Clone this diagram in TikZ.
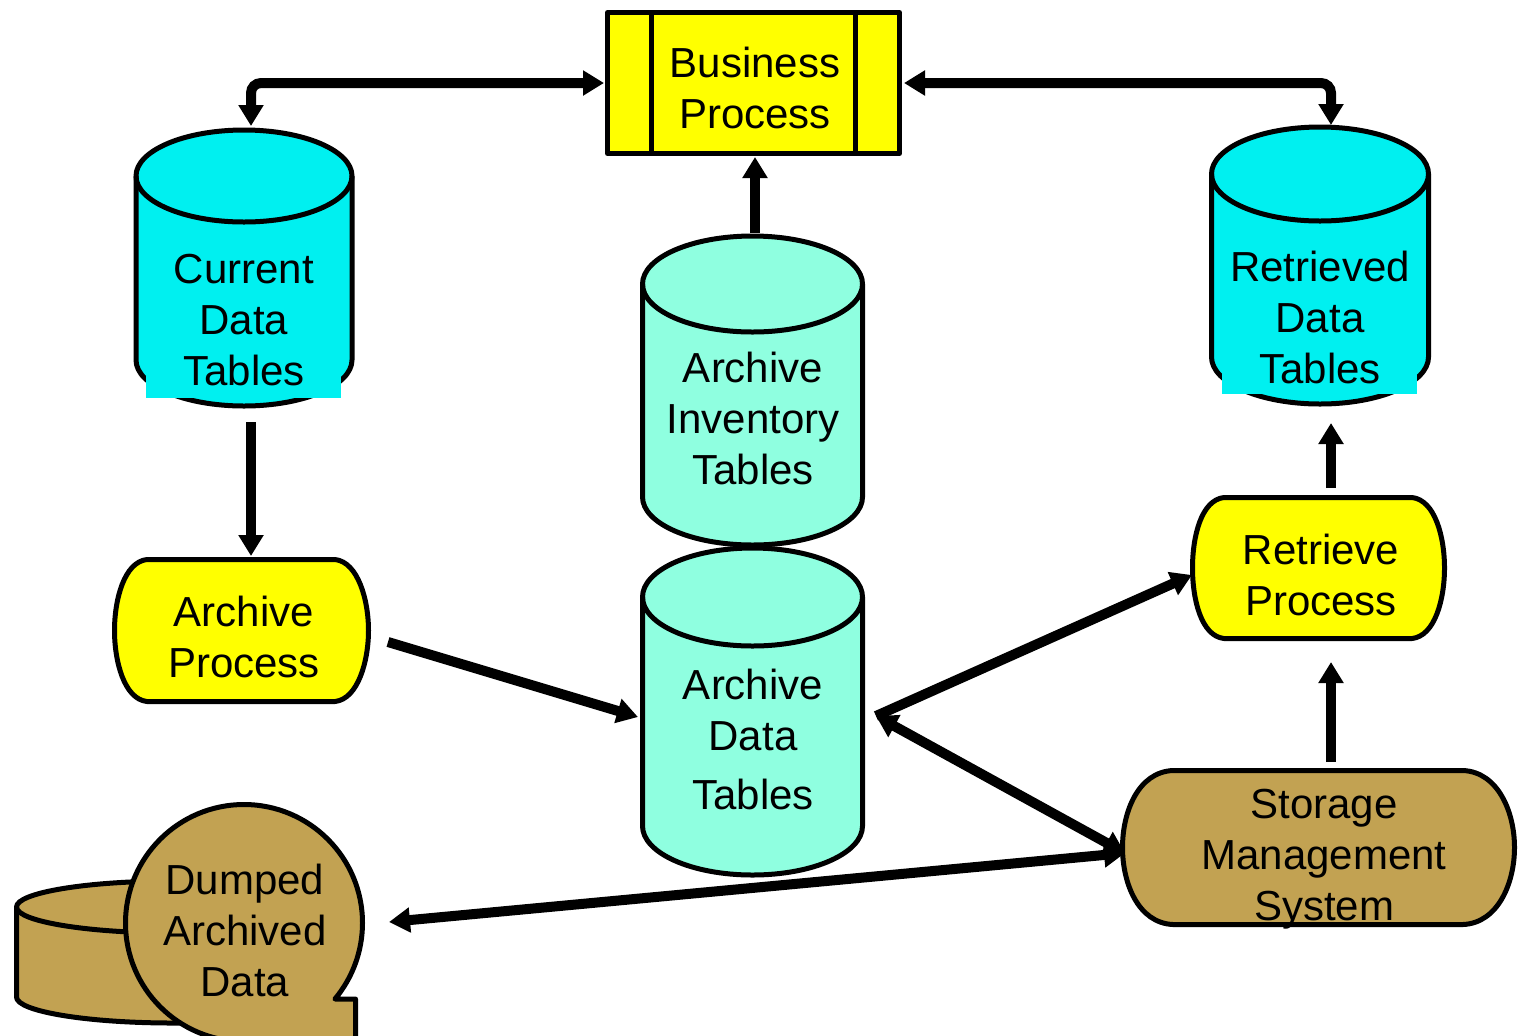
\documentclass[tikz,border=0pt]{standalone}
\usepackage{fontspec}
\setmainfont{Liberation Sans}
\usetikzlibrary{arrows.meta}
\definecolor{cyanfill}{RGB}{0,240,240}
\definecolor{aquafill}{RGB}{143,255,224}
\definecolor{procyellow}{RGB}{255,255,0}
\definecolor{tanfill}{RGB}{194,162,82}
% #1 x1, #2 x2, #3 top-ellipse centre y, #4 bottom-ellipse centre y, #5 rx (pt), #6 ry (pt), #7 fill
\newcommand\dbcyl[7]{%
  \path[shapeline,fill=#7] (#1,#3) -- (#1,#4)
    arc[start angle=180,end angle=360,x radius=#5pt,y radius=#6pt] -- (#2,#3)
    arc[start angle=0,end angle=180,x radius=#5pt,y radius=#6pt] -- cycle;
  \draw[shapeline] (#1,#3) arc[start angle=180,end angle=360,x radius=#5pt,y radius=#6pt];}
\begin{document}
\begin{tikzpicture}[x=0.5pt,y=-0.5pt,
  shapeline/.style={draw=black,line width=2.5pt,line join=round},
  lbl/.style={align=center,font=\fontsize{21}{25.5}\selectfont,inner sep=0pt},
  conn/.style={line width=5pt,-{Triangle[length=10.5pt,width=12pt]}},
  bconn/.style={line width=5pt,{Triangle[length=10.5pt,width=12pt]}-{Triangle[length=10.5pt,width=12pt]}},
]
\useasboundingbox (0,0) rectangle (1519,1035);
\clip (0,0) rectangle (1519,1035);

% ---------- Business Process ----------
\draw[shapeline,fill=procyellow] (607.5,12.5) rectangle (899.5,153.5);
\draw[shapeline] (651,12.5) -- (651,153.5);
\draw[shapeline] (855,12.5) -- (855,153.5);
\node[lbl] (bp) at (755,88) {Business\\Process};

% ---------- Current Data Tables ----------
\dbcyl{136}{352}{176}{360}{54}{23}{cyanfill}
\fill[cyanfill] (146,330) rectangle (341,398);
\node[lbl] (cdt) at (244,320) {Current\\Data\\Tables};

% ---------- Retrieved Data Tables ----------
\dbcyl{1211.5}{1428.5}{174}{357}{54.25}{23.5}{cyanfill}
\fill[cyanfill] (1222,330) rectangle (1417,394);
\node[lbl] (rdt) at (1320,317) {Retrieved\\Data\\Tables};

% ---------- Archive Inventory Tables ----------
\dbcyl{642.5}{862.5}{284}{497}{55}{24}{aquafill}
\node[lbl] (ait) at (753,418) {Archive\\Inventory\\Tables};

% ---------- Archive Data Tables ----------
\dbcyl{642.5}{862.5}{597}{826}{55}{24.5}{aquafill}
\node[lbl] (adt) at (753,739) {Archive\\Data\\[4pt]Tables};

% ---------- Archive Process ----------
\path[shapeline,fill=procyellow] (147,559.5) -- (335,559.5)
  .. controls (358,562) and (368.5,600) .. (368.5,630.5)
  .. controls (368.5,661) and (358,699) .. (335,701.5) -- (147,701.5)
  .. controls (124,699) and (114.5,661) .. (114.5,630.5)
  .. controls (114.5,600) and (124,562) .. (147,559.5) -- cycle;
\node[lbl] (ap) at (244,637) {Archive\\Process};

% ---------- Retrieve Process ----------
\path[shapeline,fill=procyellow] (1224,497.5) -- (1412,497.5)
  .. controls (1435,500) and (1444.5,537) .. (1444.5,568)
  .. controls (1444.5,599) and (1435,636) .. (1412,638.5) -- (1224,638.5)
  .. controls (1201,636) and (1192.5,599) .. (1192.5,568)
  .. controls (1192.5,537) and (1201,500) .. (1224,497.5) -- cycle;
\node[lbl] (rp) at (1321,575) {Retrieve\\Process};

% ---------- Storage Management System ----------
\path[shapeline,fill=tanfill] (1173,770.5) -- (1463,770.5)
  .. controls (1498,772) and (1514.5,812) .. (1514.5,847.5)
  .. controls (1514.5,883) and (1498,923) .. (1463,924.5) -- (1173,924.5)
  .. controls (1138,923) and (1122.5,883) .. (1122.5,847.5)
  .. controls (1122.5,812) and (1138,772) .. (1173,770.5) -- cycle;
\node[lbl] (sms) at (1324,859) {Storage\\Management\\System};

% ---------- Dumped Archived Data ----------
\dbcyl{16.5}{330}{907}{997}{78.375}{13}{tanfill}
\path[shapeline,fill=tanfill] (335,999) -- (355.5,999) -- (355.5,1041.5) -- (244,1041.5)
  arc[start angle=270,end angle=-39.9,radius=59.25pt] -- cycle;
\node[lbl] (dad) at (245,930) {Dumped\\Archived\\Data};

% ---------- connector end points ----------
\coordinate (bp-w) at (604,83);
\coordinate (bp-e) at (904,83);
\coordinate (bp-s) at (755,157);
\coordinate (cdt-n) at (251,126);
\coordinate (cdt-s) at (251,422);
\coordinate (rdt-n) at (1331,125);
\coordinate (rdt-s) at (1331,423);
\coordinate (ait-n) at (755,233);
\coordinate (ap-n) at (251,556);
\coordinate (ap-e) at (388,642);
\coordinate (adt-w) at (638,717);
\coordinate (adt-e) at (876,716);
\coordinate (rp-w) at (1192,575);
\coordinate (rp-n) at (1331,488);
\coordinate (rp-s) at (1331,662);
\coordinate (sms-w) at (1125,853);
\coordinate (sms-n) at (1331,762);
\coordinate (dad-e) at (389,922);

% ---------- connectors ----------
\draw[bconn,rounded corners=5pt] (cdt-n) |- (bp-w);
\draw[bconn,rounded corners=5pt] (bp-e) -| (rdt-n);
\draw[conn] (ait-n) -- (bp-s);
\draw[conn] (cdt-s) -- (ap-n);
\draw[conn] (ap-e) -- (adt-w);
\draw[conn] (adt-e) -- (rp-w);
\draw[bconn] (sms-w) -- (adt-e);
\draw[bconn] (sms-w) -- (dad-e);
\draw[conn] (sms-n) -- (rp-s);
\draw[conn] (rp-n) -- (rdt-s);
\end{tikzpicture}
\end{document}
